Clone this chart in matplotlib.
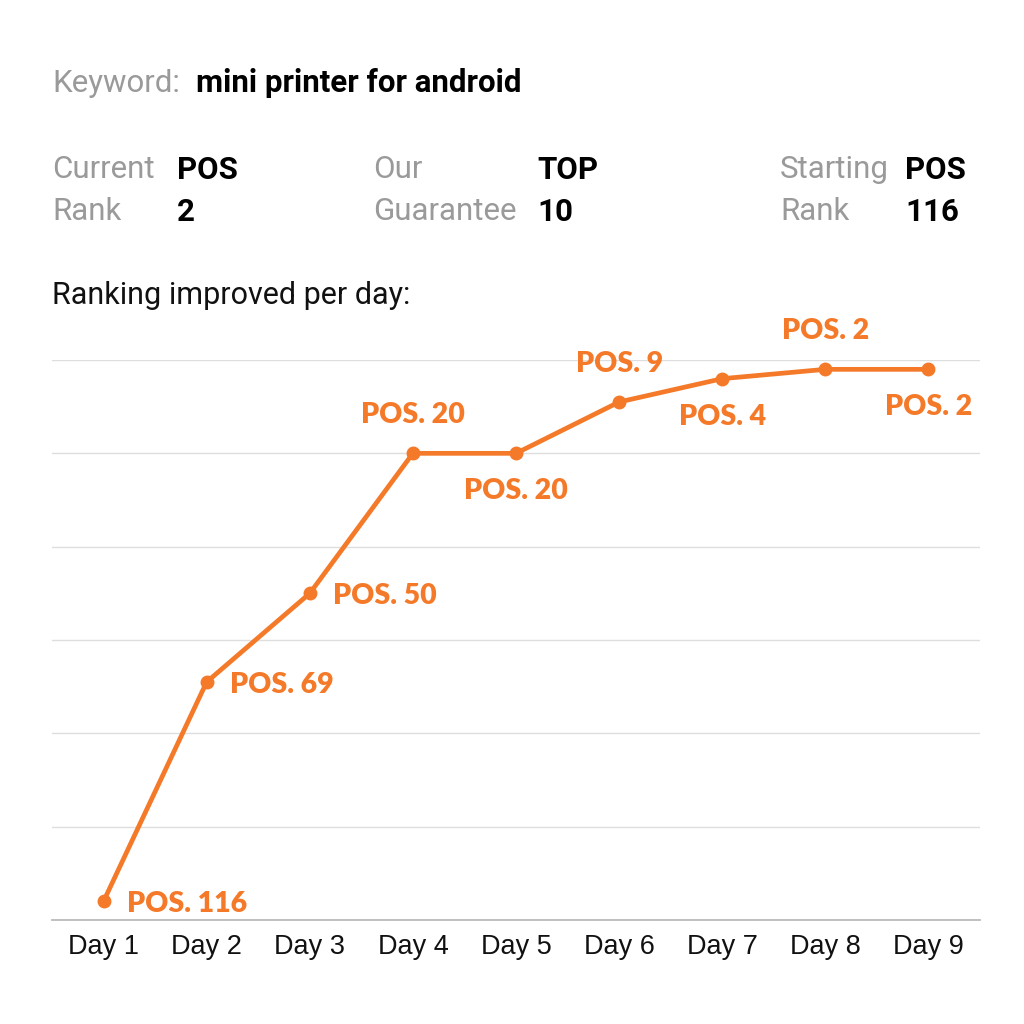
import matplotlib
matplotlib.use("Agg")
import matplotlib.pyplot as plt

days = ["Day 1", "Day 2", "Day 3", "Day 4", "Day 5", "Day 6", "Day 7", "Day 8", "Day 9"]
positions = [116, 69, 50, 20, 20, 9, 4, 2, 2]
label_side = ["right", "right", "right", "above", "below", "above", "below", "above", "below"]

keyword = "mini printer for android"
current_rank = "2"
guarantee = "10"
starting_rank = "116"

ORANGE = "#F47A2A"
GRAY = "#9a9a9a"

fig = plt.figure(figsize=(10.24, 10.24), dpi=100)
ax = fig.add_axes([52/1024, 1-920/1024, 928/1024, 560/1024])

x = list(range(len(days)))
ax.plot(x, positions, color=ORANGE, lw=3.4, marker="o", ms=9, solid_capstyle="round", zorder=3)

for xi, p, side in zip(x, positions, label_side):
    if side == "right":
        off, ha, va = (23, -3), "left", "center"
    elif side == "above":
        off, ha, va = (0, 38), "center", "center"
    else:
        off, ha, va = (0, -38), "center", "center"
    ax.annotate(f"POS. {p}", (xi, p), xytext=off, textcoords="offset pixels",
                ha=ha, va=va, color=ORANGE, fontsize=20.5, fontweight="heavy",
                family="Lato", annotation_clip=False)

ax.set_xlim(-0.5, len(days) - 0.5)
ax.set_ylim(120, 0)
ax.set_yticks(range(0, 121, 20))
ax.set_yticklabels([])
ax.tick_params(axis="y", length=0)
ax.grid(axis="y", color="#dedede", lw=1)
ax.set_axisbelow(True)
ax.set_xticks(x)
ax.set_xticklabels(days, fontsize=19.5, family="Liberation Sans", color="#111111")
ax.tick_params(axis="x", length=0, pad=10)
for s in ["top", "left", "right"]:
    ax.spines[s].set_visible(False)
ax.spines["bottom"].set_color("#bbbbbb")
ax.spines["bottom"].set_linewidth(1.3)

def T(px, py, s, bold=False, color=None, size=22.5):
    fig.text(px/1024, 1-py/1024, s, fontsize=size, family="Roboto",
             fontweight="bold" if bold else "normal",
             color=color if color else ("#000000" if bold else GRAY),
             ha="left", va="center")

T(52, 83, "Keyword:")
T(196, 83, keyword, bold=True)
T(52, 170, "Current"); T(177, 170, "POS", bold=True)
T(52, 212, "Rank"); T(177, 212, current_rank, bold=True)
T(373, 170, "Our"); T(537, 170, "TOP", bold=True)
T(373, 212, "Guarantee"); T(537, 212, guarantee, bold=True)
T(780, 170, "Starting"); T(905, 170, "POS", bold=True)
T(780, 212, "Rank"); T(905, 212, starting_rank, bold=True)
T(52, 295, "Ranking improved per day:", color="#111111", size=22)

fig.savefig("out.png", dpi=100, facecolor="white")
